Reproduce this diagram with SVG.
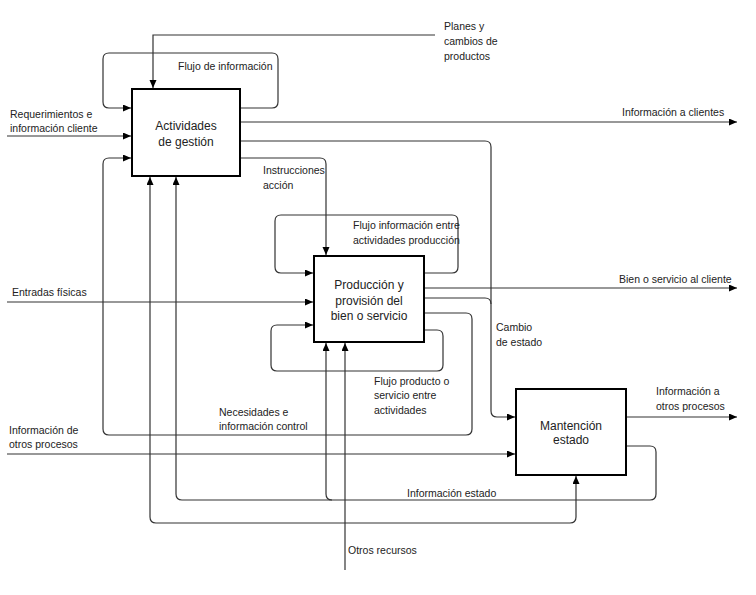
<svg xmlns="http://www.w3.org/2000/svg" width="756" height="595" viewBox="0 0 756 595">
<defs>
<marker id="ah" markerUnits="userSpaceOnUse" markerWidth="9" markerHeight="8" refX="8" refY="3.5" orient="auto">
<path d="M0,0 L8,3.5 L0,7 z" fill="#000"/>
</marker>
<style>
.box{fill:#fff;stroke:#000;stroke-width:2}
.c{fill:none;stroke:#333;stroke-width:1.2}
.a{marker-end:url(#ah)}
text{font-family:"Liberation Sans",Arial,sans-serif;font-size:10.5px;fill:#222}
.bl{font-size:12px;text-anchor:middle}
</style>
</defs>
<rect width="756" height="595" fill="#fff"/>
<g id="connectors">
<path class="c a" d="M435,35 H153 V88"/>
<path class="c a" d="M240,108 H272 q6,0 6,-6 V59 q0,-6 -6,-6 H109 q-6,0 -6,6 V102 q0,6 6,6 H131"/>
<path class="c a" d="M7,136 H131"/>
<path class="c a" d="M240,122 H737"/>
<path class="c a" d="M240,141 H485 q6,0 6,6 V411 q0,6 6,6 H515"/>
<path class="c a" d="M240,158 H320 q6,0 6,6 V255"/>
<path class="c a" d="M424,313 H466 q6,0 6,6 V429 q0,6 -6,6 H109 q-6,0 -6,-6 V164 q0,-6 6,-6 H131"/>
<path class="c a" d="M424,273 H452 q6,0 6,-6 V221 q0,-6 -6,-6 H281 q-6,0 -6,6 V267 q0,6 6,6 H313"/>
<path class="c a" d="M7,302 H313"/>
<path class="c a" d="M424,288 H737"/>
<path class="c" d="M424,298 H485 q6,0 6,6"/>
<path class="c a" d="M424,330 H437 q6,0 6,6 V365 q0,6 -6,6 H277 q-6,0 -6,-6 V331 q0,-6 6,-6 H313"/>
<path class="c a" d="M7,454 H515"/>
<path class="c a" d="M626,417 H737"/>
<path class="c a" d="M626,446 H650 q6,0 6,6 V494 q0,6 -6,6 H182 q-6,0 -6,-6 V177"/>
<path class="c a" d="M332,500 q-6,0 -6,-6 V343"/>
<path class="c a" d="M345,523 H156 q-6,0 -6,-6 V177"/>
<path class="c a" d="M345,523 H570 q6,0 6,-6 V476"/>
<path class="c a" d="M345,570 V343"/>
</g>
<g id="actividades">
<rect class="box" x="132" y="89" width="108" height="87"/>
<text class="bl" x="186" y="130">Actividades</text>
<text class="bl" x="186" y="146">de gestión</text>
</g>
<g id="produccion">
<rect class="box" x="314" y="256" width="110" height="86"/>
<text class="bl" x="369" y="289">Producción y</text>
<text class="bl" x="369" y="305">provisión del</text>
<text class="bl" x="369" y="320">bien o servicio</text>
</g>
<g id="mantencion">
<rect class="box" x="516" y="389" width="110" height="86"/>
<text class="bl" x="571" y="430">Mantención</text>
<text class="bl" x="571" y="444">estado</text>
</g>
<g id="labels">
<text x="444" y="30">Planes y</text>
<text x="444" y="45">cambios de</text>
<text x="444" y="60">productos</text>
<text x="178" y="70">Flujo de información</text>
<text x="10" y="118">Requerimientos e</text>
<text x="10" y="132">información cliente</text>
<text x="622" y="116">Información a clientes</text>
<text x="263" y="174">Instrucciones</text>
<text x="263" y="189">acción</text>
<text x="353" y="229">Flujo información entre</text>
<text x="353" y="244">actividades producción</text>
<text x="619" y="283">Bien o servicio al cliente</text>
<text x="12" y="296">Entradas físicas</text>
<text x="496" y="331">Cambio</text>
<text x="496" y="346">de estado</text>
<text x="374" y="385">Flujo producto o</text>
<text x="374" y="399">servicio entre</text>
<text x="374" y="414">actividades</text>
<text x="656" y="395">Información a</text>
<text x="656" y="410">otros procesos</text>
<text x="219" y="416">Necesidades e</text>
<text x="219" y="430">información control</text>
<text x="9" y="434">Información de</text>
<text x="9" y="448">otros procesos</text>
<text x="407" y="497">Información estado</text>
<text x="348" y="554">Otros recursos</text>
</g>
</svg>
